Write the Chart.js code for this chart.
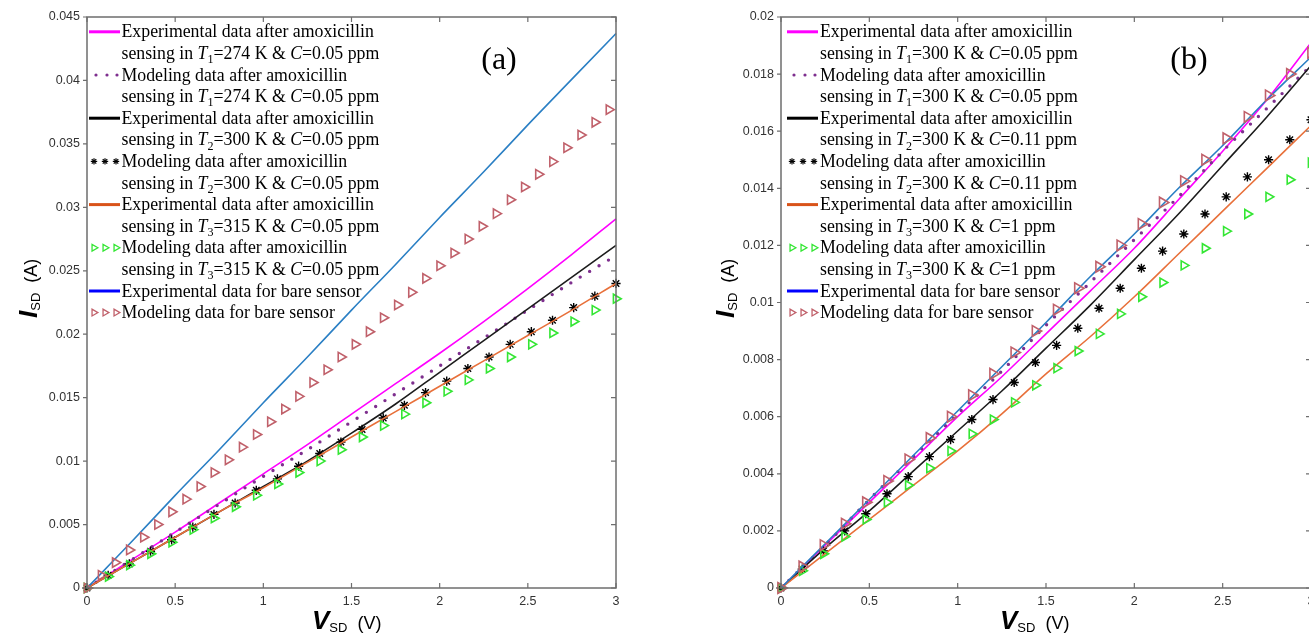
<!DOCTYPE html>
<html>
<head>
<meta charset="utf-8">
<script src="https://cdn.jsdelivr.net/npm/chart.js@4.4.0/dist/chart.umd.min.js"></script>
<style>
  html, body { margin: 0; padding: 0; background: #fff; overflow: hidden; }
  #wrap { position: relative; width: 1309px; height: 635px; overflow: hidden; }
  #chart_a { position: absolute; left: 0; top: 0; }
  #chart_b { position: absolute; left: 690px; top: 0; }
</style>
</head>
<body>
<div id="wrap">
  <canvas id="chart_a" width="650" height="635"></canvas>
  <canvas id="chart_b" width="640" height="635"></canvas>
</div>
<script>
// x positions (V)
const v_line = [0, 0.25, 0.5, 0.75, 1, 1.25, 1.5, 1.75, 2, 2.25, 2.5, 2.75, 3];
const v_mark = [0, 0.12, 0.24, 0.36, 0.48, 0.6, 0.72, 0.84, 0.96, 1.08, 1.2, 1.32, 1.44, 1.56, 1.68, 1.8, 1.92, 2.04, 2.16, 2.28, 2.4, 2.52, 2.64, 2.76, 2.88, 3];
const v_mark_fine = [0, 0.08, 0.16, 0.24, 0.32, 0.4, 0.48, 0.56, 0.64, 0.72, 0.8, 0.88, 0.96, 1.04, 1.12, 1.2, 1.28, 1.36, 1.44, 1.52, 1.6, 1.68, 1.76, 1.84, 1.92, 2, 2.08, 2.16, 2.24, 2.32, 2.4, 2.48, 2.56, 2.64, 2.72, 2.8, 2.88, 2.96];

// ticks
const x_ticks = [0, 0.5, 1, 1.5, 2, 2.5, 3];
const x_labels = ['0', '0.5', '1', '1.5', '2', '2.5', '3'];
const y_ticks_a = [0, 0.005, 0.01, 0.015, 0.02, 0.025, 0.03, 0.035, 0.04, 0.045];
const y_labels_a = ['0', '0.005', '0.01', '0.015', '0.02', '0.025', '0.03', '0.035', '0.04', '0.045'];
const y_ticks_b = [0, 0.002, 0.004, 0.006, 0.008, 0.01, 0.012, 0.014, 0.016, 0.018, 0.02];
const y_labels_b = ['0', '0.002', '0.004', '0.006', '0.008', '0.01', '0.012', '0.014', '0.016', '0.018', '0.02'];

// panel (a) currents (A)
const a_exp_t1 = [0, 0.0022, 0.0044, 0.0067, 0.0090, 0.0113, 0.0137, 0.0161, 0.0185, 0.0210, 0.0236, 0.0263, 0.0291];
const a_mod_t1 = [0, 0.0022, 0.0044, 0.0066, 0.0088, 0.0109, 0.0131, 0.0153, 0.0175, 0.0197, 0.0219, 0.0241, 0.0262];
const a_exp_t2 = [0, 0.0020, 0.0040, 0.0060, 0.0080, 0.0100, 0.0122, 0.0145, 0.0170, 0.0195, 0.0220, 0.0245, 0.0270];
const a_mod_t2 = [0, 0.0010, 0.0019, 0.0029, 0.0038, 0.0048, 0.0058, 0.0067, 0.0077, 0.0086, 0.0096, 0.0106, 0.0115, 0.0125, 0.0134, 0.0144, 0.0154, 0.0163, 0.0173, 0.0182, 0.0192, 0.0202, 0.0211, 0.0221, 0.0230, 0.0240];
const a_exp_t3 = [0, 0.0020, 0.0040, 0.0060, 0.0079, 0.0099, 0.0119, 0.0139, 0.0159, 0.0179, 0.0199, 0.0219, 0.0240];
const a_mod_t3 = [0, 0.0009, 0.0018, 0.0027, 0.0036, 0.0046, 0.0055, 0.0064, 0.0073, 0.0082, 0.0091, 0.0100, 0.0109, 0.0119, 0.0128, 0.0137, 0.0146, 0.0155, 0.0164, 0.0173, 0.0182, 0.0192, 0.0201, 0.0210, 0.0219, 0.0228];
const a_exp_bare = [0, 0.0036, 0.0073, 0.0109, 0.0146, 0.0182, 0.0219, 0.0255, 0.0292, 0.0328, 0.0365, 0.0401, 0.0437];
const a_mod_bare = [0, 0.0010, 0.0020, 0.0030, 0.0040, 0.0050, 0.0060, 0.0070, 0.0080, 0.0091, 0.0101, 0.0111, 0.0121, 0.0131, 0.0141, 0.0151, 0.0162, 0.0172, 0.0182, 0.0192, 0.0202, 0.0213, 0.0223, 0.0233, 0.0244, 0.0254, 0.0264, 0.0275, 0.0285, 0.0295, 0.0306, 0.0316, 0.0326, 0.0336, 0.0347, 0.0357, 0.0367, 0.0377];

// panel (b) currents (A)
const b_exp_t1 = [0, 0.0015, 0.0030, 0.0045, 0.0060, 0.0074, 0.0089, 0.0104, 0.0119, 0.0136, 0.0153, 0.0171, 0.0191];
const b_mod_t1 = [0, 0.0015, 0.0031, 0.0046, 0.0061, 0.0076, 0.0092, 0.0107, 0.0122, 0.0137, 0.0153, 0.0168, 0.0183];
const b_exp_t2 = [0, 0.0014, 0.0027, 0.0041, 0.0055, 0.0069, 0.0084, 0.0099, 0.0115, 0.0131, 0.0148, 0.0165, 0.0183];
const b_mod_t2 = [0, 0.00066, 0.0013, 0.0020, 0.0026, 0.0033, 0.0039, 0.0046, 0.0052, 0.0059, 0.0066, 0.0072, 0.0079, 0.0085, 0.0091, 0.0098, 0.0105, 0.0112, 0.0118, 0.0124, 0.0131, 0.0137, 0.0144, 0.0150, 0.0157, 0.0164];
const b_exp_t3 = [0, 0.0012, 0.0024, 0.0036, 0.0048, 0.0061, 0.0075, 0.0088, 0.0102, 0.0117, 0.0132, 0.0147, 0.0162];
const b_mod_t3 = [0, 0.0006, 0.0012, 0.0018, 0.0024, 0.0030, 0.0036, 0.0042, 0.0048, 0.0054, 0.0059, 0.0065, 0.0071, 0.0077, 0.0083, 0.0089, 0.0096, 0.0102, 0.0107, 0.0113, 0.0119, 0.0125, 0.0131, 0.0137, 0.0143, 0.0149];
const b_exp_bare = [0, 0.00155, 0.0031, 0.00465, 0.0062, 0.00775, 0.0093, 0.0109, 0.0124, 0.0140, 0.0155, 0.0171, 0.0186];
const b_mod_bare = [0, 0.00075, 0.0015, 0.00225, 0.0030, 0.00375, 0.0045, 0.00525, 0.0060, 0.00675, 0.0075, 0.00825, 0.0090, 0.00975, 0.0105, 0.01125, 0.0120, 0.01275, 0.0135, 0.01425, 0.0150, 0.01575, 0.0165, 0.01725, 0.0180, 0.01875];

// legend texts (_x_ = italic, ~x~ = subscript)
const legend_a = [
    ['Experimental data after amoxicillin', 'sensing in _T_~1~=274 K & _C_=0.05 ppm'],
    ['Modeling data after amoxicillin', 'sensing in _T_~1~=274 K & _C_=0.05 ppm'],
    ['Experimental data after amoxicillin', 'sensing in _T_~2~=300 K & _C_=0.05 ppm'],
    ['Modeling data after amoxicillin', 'sensing in _T_~2~=300 K & _C_=0.05 ppm'],
    ['Experimental data after amoxicillin', 'sensing in _T_~3~=315 K & _C_=0.05 ppm'],
    ['Modeling data after amoxicillin', 'sensing in _T_~3~=315 K & _C_=0.05 ppm'],
    ['Experimental data for bare sensor'],
    ['Modeling data for bare sensor']
];
const legend_b = [
    ['Experimental data after amoxicillin', 'sensing in _T_~1~=300 K & _C_=0.05 ppm'],
    ['Modeling data after amoxicillin', 'sensing in _T_~1~=300 K & _C_=0.05 ppm'],
    ['Experimental data after amoxicillin', 'sensing in _T_~2~=300 K & _C_=0.11 ppm'],
    ['Modeling data after amoxicillin', 'sensing in _T_~2~=300 K & _C_=0.11 ppm'],
    ['Experimental data after amoxicillin', 'sensing in _T_~3~=300 K & _C_=1 ppm'],
    ['Modeling data after amoxicillin', 'sensing in _T_~3~=300 K & _C_=1 ppm'],
    ['Experimental data for bare sensor'],
    ['Modeling data for bare sensor']
];

const SERIF = '"Liberation Serif", "Times New Roman", serif';
const SANS = '"Liberation Sans", Arial, sans-serif';

function pts(xs, ys) {
    return ys.map((y, i) => ({x: xs[i], y: y}));
}

function line_set(xs, ys, color, legend_color, order) {
    return {
        data: pts(xs, ys), showLine: true, borderColor: color, borderWidth: 1.6,
        pointRadius: 0, cubicInterpolationMode: 'monotone', clip: false, order: order,
        legend_kind: 'line', legend_color: legend_color
    };
}

function dot_set(xs, ys, color, order) {
    return {
        data: pts(xs, ys), showLine: true, borderColor: color, borderWidth: 3.4,
        borderDash: [0, 11], borderCapStyle: 'round', pointRadius: 0,
        cubicInterpolationMode: 'monotone', clip: false, order: order,
        legend_kind: 'dots', legend_color: color
    };
}

function mark_set(xs, ys, color, style, radius, order) {
    return {
        data: pts(xs, ys), showLine: false, borderColor: color, backgroundColor: 'rgba(0,0,0,0)',
        pointStyle: style, pointRadius: radius, pointBorderWidth: style == 'star' ? 1.4 : 1.6,
        pointRotation: style == 'triangle' ? 90 : 0, clip: false, order: order,
        legend_kind: style, legend_color: color
    };
}

function draw_rich(ctx, str, x, y, size) {
    str.split(/(_[^_]+_|~[^~]+~)/).filter(s => s).forEach(s => {
        let fs = size, dy = 0, st = '', t = s;
        if (s[0] == '_') { st = 'italic '; t = s.slice(1, -1); }
        if (s[0] == '~') { fs = size * 0.68; dy = size * 0.24; t = s.slice(1, -1); }
        ctx.font = st + fs + 'px ' + SERIF;
        ctx.fillText(t, x, y + dy);
        x += ctx.measureText(t).width;
    });
}

function draw_title(ctx, parts, x, y, rotated) {
    ctx.save();
    ctx.translate(x, y);
    if (rotated) ctx.rotate(-Math.PI / 2);
    ctx.fillStyle = '#000';
    ctx.textAlign = 'left';
    ctx.textBaseline = 'alphabetic';
    let pos = 0;
    parts.forEach(p => {
        ctx.font = p[1] + ' ' + SANS;
        ctx.fillText(p[0], pos, p[2] || 0);
        pos += ctx.measureText(p[0]).width;
    });
    ctx.restore();
}

function legend_symbol(ctx, kind, color, x0, x1, y) {
    ctx.save();
    ctx.strokeStyle = color;
    ctx.fillStyle = color;
    if (kind == 'line') {
        ctx.lineWidth = 3;
        ctx.beginPath(); ctx.moveTo(x0, y); ctx.lineTo(x1, y); ctx.stroke();
    } else if (kind == 'dots') {
        [7, 18, 28].forEach(dx => { ctx.beginPath(); ctx.arc(x0 + dx, y, 1.6, 0, Math.PI * 2); ctx.fill(); });
    } else if (kind == 'star') {
        ctx.lineWidth = 1.2;
        [5, 16, 27].forEach(dx => {
            for (let k = 0; k < 4; k++) {
                const a = k * Math.PI / 4;
                ctx.beginPath();
                ctx.moveTo(x0 + dx - Math.cos(a) * 3.2, y - Math.sin(a) * 3.2);
                ctx.lineTo(x0 + dx + Math.cos(a) * 3.2, y + Math.sin(a) * 3.2);
                ctx.stroke();
            }
        });
    } else {
        ctx.lineWidth = 1.3;
        [5, 16, 27].forEach(dx => {
            const cx = x0 + dx, r = 3.9;
            ctx.beginPath();
            ctx.moveTo(cx + r, y);
            ctx.lineTo(cx - r * 0.5, y - r * 0.866);
            ctx.lineTo(cx - r * 0.5, y + r * 0.866);
            ctx.closePath();
            ctx.stroke();
        });
    }
    ctx.restore();
}

const panel_plugin = {
    id: 'panel',
    afterDraw(chart, args, opts) {
        const ctx = chart.ctx;
        const {left, top, right, bottom} = chart.chartArea;
        const xs = chart.scales.x, ys = chart.scales.y;

        // axes box and ticks
        ctx.save();
        ctx.strokeStyle = '#6e6e6e';
        ctx.lineWidth = 1.5;
        ctx.strokeRect(left, top, right - left, bottom - top);
        ctx.lineWidth = 1.2;
        ctx.beginPath();
        xs.ticks.forEach(t => {
            const px = xs.getPixelForValue(t.value);
            ctx.moveTo(px, bottom); ctx.lineTo(px, bottom - 5);
            ctx.moveTo(px, top); ctx.lineTo(px, top + 5);
        });
        ys.ticks.forEach(t => {
            const py = ys.getPixelForValue(t.value);
            ctx.moveTo(left - 4, py); ctx.lineTo(left, py);
            ctx.moveTo(right, py); ctx.lineTo(right - 5, py);
        });
        ctx.stroke();
        ctx.restore();

        // legend
        ctx.save();
        ctx.fillStyle = '#000';
        ctx.textAlign = 'left';
        ctx.textBaseline = 'alphabetic';
        let row = 0;
        opts.legend.forEach((lines, i) => {
            const ds = chart.data.datasets[i];
            const base = opts.legend_top + row * opts.legend_step;
            legend_symbol(ctx, ds.legend_kind, ds.legend_color, opts.sym_x0, opts.sym_x1, base - 5.5);
            lines.forEach(txt => {
                draw_rich(ctx, txt, opts.text_x, opts.legend_top + row * opts.legend_step, 17.8);
                row++;
            });
        });
        ctx.restore();

        // panel tag
        ctx.save();
        ctx.fillStyle = '#000';
        ctx.font = '32px ' + SERIF;
        ctx.textAlign = 'center';
        ctx.fillText(opts.tag, opts.tag_x, opts.tag_y);
        ctx.restore();

        // axis titles
        draw_title(ctx, [['I', 'italic bold 26px'], ['SD', '13px', 3], ['  (A)', '18px']], opts.ytitle_x, 318, true);
        draw_title(ctx, [['V', 'italic bold 26px'], ['SD', '13px', 3], ['  (V)', '18px']], opts.xtitle_x, 629, false);
    }
};

function build_chart(canvas_id, p) {
    const datasets = [
        line_set(v_line, p.exp_t1, '#ff00ff', '#ff00ff', 10),
        dot_set(v_line, p.mod_t1, '#7e2f8e', 9),
        line_set(v_line, p.exp_t2, '#1c1c1c', '#000000', 8),
        mark_set(v_mark, p.mod_t2, '#000000', 'star', 4.6, 7),
        line_set(v_line, p.exp_t3, '#e8703a', '#d95319', 6),
        mark_set(v_mark, p.mod_t3, '#33e633', 'triangle', 5.2, 5),
        line_set(v_line, p.exp_bare, '#2a7fc4', '#0000ff', 4),
        mark_set(p.v_bare, p.mod_bare, '#c0606a', 'triangle', p.bare_r, 3)
    ];
    return new Chart(document.getElementById(canvas_id), {
        type: 'scatter',
        data: {datasets: datasets},
        options: {
            responsive: false,
            animation: false,
            events: [],
            layout: {padding: {left: 0, top: 17, right: p.pad_right, bottom: 0}},
            plugins: {
                legend: {display: false},
                tooltip: {enabled: false},
                panel: {
                    legend: p.legend, legend_top: 37.3, legend_step: 21.6,
                    sym_x0: p.sym_x0, sym_x1: p.sym_x0 + 31, text_x: p.text_x,
                    tag: p.tag, tag_x: 499, tag_y: 69,
                    ytitle_x: p.ytitle_x, xtitle_x: p.xtitle_x
                }
            },
            scales: {
                x: {
                    type: 'linear', min: 0, max: 3,
                    afterBuildTicks: s => { s.ticks = x_ticks.map(v => ({value: v})); },
                    afterFit: s => { s.height = 47; },
                    grid: {display: false, drawTicks: false},
                    border: {display: false},
                    ticks: {
                        autoSkip: false, maxRotation: 0, padding: 6, color: '#333333',
                        font: {family: SANS, size: 12.5},
                        callback: (v, i) => x_labels[i]
                    }
                },
                y: {
                    type: 'linear', min: 0, max: p.y_max,
                    afterBuildTicks: s => { s.ticks = p.y_ticks.map(v => ({value: v})); },
                    afterFit: s => { s.width = p.axis_w; },
                    grid: {display: false, drawTicks: false},
                    border: {display: false},
                    ticks: {
                        autoSkip: false, padding: 7, color: '#333333',
                        font: {family: SANS, size: 12.5},
                        callback: (v, i) => p.y_labels[i]
                    }
                }
            }
        },
        plugins: [panel_plugin]
    });
}

build_chart('chart_a', {
    exp_t1: a_exp_t1, mod_t1: a_mod_t1, exp_t2: a_exp_t2, mod_t2: a_mod_t2,
    exp_t3: a_exp_t3, mod_t3: a_mod_t3, exp_bare: a_exp_bare, mod_bare: a_mod_bare,
    v_bare: v_mark_fine, bare_r: 5.4,
    y_max: 0.045, y_ticks: y_ticks_a, y_labels: y_labels_a,
    axis_w: 87, pad_right: 34, legend: legend_a,
    sym_x0: 89, text_x: 121.5, tag: '(a)', ytitle_x: 37, xtitle_x: 312
});

build_chart('chart_b', {
    exp_t1: b_exp_t1, mod_t1: b_mod_t1, exp_t2: b_exp_t2, mod_t2: b_mod_t2,
    exp_t3: b_exp_t3, mod_t3: b_mod_t3, exp_bare: b_exp_bare, mod_bare: b_mod_bare,
    v_bare: v_mark, bare_r: 6.2,
    y_max: 0.02, y_ticks: y_ticks_b, y_labels: y_labels_b,
    axis_w: 91, pad_right: 19, legend: legend_b,
    sym_x0: 97, text_x: 130, tag: '(b)', ytitle_x: 44, xtitle_x: 310
});
</script>
</body>
</html>
